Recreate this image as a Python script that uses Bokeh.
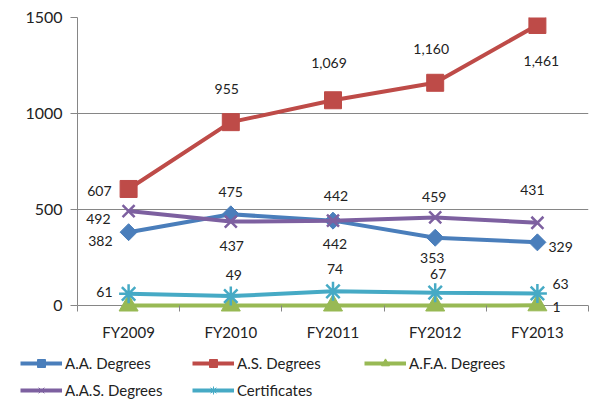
import math
from bokeh.plotting import figure
from bokeh.layouts import column
from bokeh.models import ColumnDataSource, Range1d, FixedTicker, Legend, LegendItem
from bokeh.core.properties import value
from bokeh.embed import file_html
from bokeh.resources import INLINE

# ---- data ----
years = ["FY2009", "FY2010", "FY2011", "FY2012", "FY2013"]
aa_degrees = [382, 475, 442, 353, 329]
as_degrees = [607, 955, 1069, 1160, 1461]
afa_degrees = [0, 0, 0, 0, 1]
aas_degrees = [492, 437, 442, 459, 431]
certificates = [61, 49, 74, 67, 63]
series_names = ["A.A. Degrees", "A.S. Degrees", "A.F.A. Degrees", "A.A.S. Degrees", "Certificates"]
y_ticks = [0, 500, 1000, 1500]

# ---- styles ----
FONT = value("Lato")
Y_PAD = 78  # room below zero so markers sitting on the axis are not clipped
styles = [
    dict(color="#4A7EBB", marker="square", size=12, angle=math.pi / 4, mlw=1,
         labels=[(-16, 9, "right"), (0, -22, "center"), (2, 23, "center"), (-3, 20, "center"), (11, 5, "left")]),
    dict(color="#BE4B48", marker="square", size=17, angle=0, mlw=1,
         labels=[(-17, 2, "right"), (-4, -33, "center"), (-4, -37, "center"), (-4, -34, "center"), (4, 36, "center")]),
    dict(color="#98B954", marker="triangle", size=19, angle=0, mlw=1,
         labels=[None, None, None, None, (15, 2, "left")]),
    dict(color="#7D60A0", marker="x", size=17, angle=0, mlw=2.5,
         labels=[(-18, 8, "right"), (1, 24, "center"), (3, -25, "center"), (-1, -20, "center"), (-5, -33, "center")]),
    dict(color="#46AAC5", marker="asterisk", size=19, angle=0, mlw=2.5,
         labels=[(-16, -2, "right"), (3, -21, "center"), (2, -22, "center"), (3, -19, "center"), (15, -9, "left")]),
]
all_series = [aa_degrees, as_degrees, afa_degrees, aas_degrees, certificates]

xs = [i + 0.5 for i in range(len(years))]

p = figure(width=599, height=345, output_backend="svg", toolbar_location=None,
           x_range=Range1d(0, len(years)), y_range=Range1d(y_ticks[0] - Y_PAD, y_ticks[-1]),
           min_border_left=77, min_border_right=11, min_border_top=17, min_border_bottom=25)
p.outline_line_color = None
p.background_fill_color = "white"
p.xgrid.grid_line_color = None
p.ygrid.grid_line_color = "#868686"
p.ygrid.grid_line_width = 1

# y axis
p.yaxis.ticker = FixedTicker(ticks=y_ticks)
p.yaxis.bounds = (y_ticks[0], y_ticks[-1])
p.yaxis.axis_line_color = "#868686"
p.yaxis.major_tick_line_color = "#868686"
p.yaxis.major_tick_out = 7
p.yaxis.major_tick_in = 0
p.yaxis.minor_tick_line_color = None
p.yaxis.major_label_text_font = "Lato"
p.yaxis.major_label_text_font_size = "16px"
p.yaxis.major_label_text_color = "#222222"
p.yaxis.major_label_standoff = 8

# x axis: line hidden (zero gridline acts as axis), boundary ticks hang below zero
p.xaxis.ticker = FixedTicker(ticks=xs, minor_ticks=list(range(len(years) + 1)))
p.xaxis.major_label_overrides = {x: y for x, y in zip(xs, years)}
p.xaxis.axis_line_color = None
p.xaxis.major_tick_line_color = None
p.xaxis.major_tick_out = 0
p.xaxis.major_tick_in = 0
p.xaxis.minor_tick_line_color = "#868686"
p.xaxis.minor_tick_in = 15
p.xaxis.minor_tick_out = -9
p.xaxis.major_label_text_font = "Lato"
p.xaxis.major_label_text_font_size = "15px"
p.xaxis.major_label_text_color = "#222222"
p.xaxis.major_label_standoff = 2

# legend-only figure underneath (its renderers reuse the data but lie outside its ranges)
lf = figure(width=599, height=56, output_backend="svg", toolbar_location=None,
            x_range=Range1d(-20, -10), y_range=Range1d(-20, -10), x_axis_type=None, y_axis_type=None,
            min_border_left=0, min_border_right=0, min_border_top=0, min_border_bottom=0)
lf.outline_line_color = None
lf.xgrid.grid_line_color = None
lf.ygrid.grid_line_color = None
for fig in (p, lf):
    if "frame_align" in fig.properties():
        fig.frame_align = False

items = []
for name, vals, st in zip(series_names, all_series, styles):
    src = ColumnDataSource(dict(x=xs, y=vals))
    p.line("x", "y", source=src, line_color=st["color"], line_width=4)
    p.scatter("x", "y", source=src, marker=st["marker"], size=st["size"], angle=st["angle"],
              fill_color=st["color"], line_color=st["color"], line_width=st["mlw"])
    lr = lf.line("x", "y", source=src, line_color=st["color"], line_width=4)
    sr = lf.scatter("x", "y", source=src, marker=st["marker"], size=st["size"], angle=st["angle"],
                    fill_color=st["color"], line_color=st["color"], line_width=1)
    items.append(LegendItem(label=name, renderers=[lr, sr]))

# data labels
for vals, st in zip(all_series, styles):
    lx, ly, lt, dx, dy, al = [], [], [], [], [], []
    for x, v, lab in zip(xs, vals, st["labels"]):
        if lab is None:
            continue
        lx.append(x); ly.append(v); lt.append(f"{v:,}")
        dx.append(lab[0]); dy.append(lab[1]); al.append(lab[2])
    lsrc = ColumnDataSource(dict(x=lx, y=ly, t=lt, dx=dx, dy=dy, al=al))
    p.text("x", "y", text="t", source=lsrc, x_offset="dx", y_offset="dy", text_align="al",
           text_baseline="middle", text_font=FONT, text_font_size="14px", text_color="#222222")

legend = Legend(items=items, orientation="horizontal", ncols=3, location=(20, 1),
                border_line_color=None, background_fill_alpha=0, padding=0, margin=0,
                spacing=7, glyph_width=42, glyph_height=20, label_height=20, label_width=120,
                label_standoff=3, label_text_font="Lato", label_text_font_size="15px",
                label_text_color="#222222")
lf.add_layout(legend, "center")

open("out.html", "w").write(file_html(column(p, lf, spacing=0), INLINE))
